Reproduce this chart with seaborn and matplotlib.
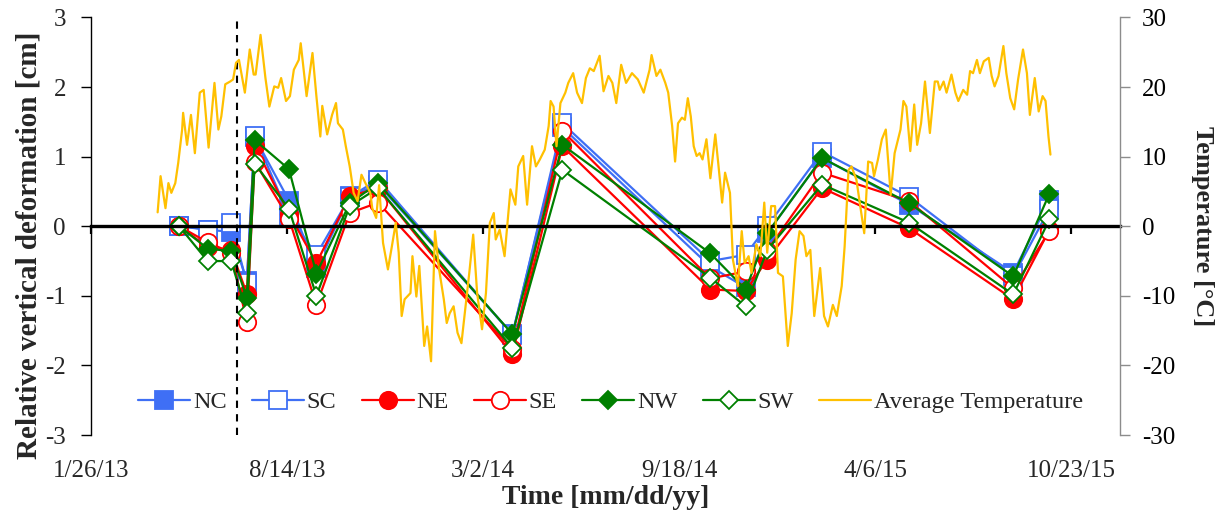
import pandas as pd
import matplotlib
matplotlib.use("Agg")
import matplotlib.pyplot as plt
import seaborn as sns

# survey dates and relative vertical deformation [cm] per settlement plate
survey_dates = ['2013-04-26', '2013-05-25', '2013-06-18', '2013-07-04', '2013-07-12',
                '2013-08-16', '2013-09-13', '2013-10-17', '2013-11-15', '2014-04-01',
                '2014-05-22', '2014-10-20', '2014-11-25', '2014-12-17', '2015-02-11',
                '2015-05-11', '2015-08-25', '2015-10-01']
NC = [0.0, -0.05, -0.08, -0.79, 1.28, 0.37, -0.60, 0.43, 0.60, -1.55, 1.42, -0.58, -0.88, -0.10, 0.98, 0.31, -0.67, 0.38]
SC = [0.01, -0.05, 0.05, -0.82, 1.30, 0.15, -0.41, 0.42, 0.67, -1.56, 1.48, -0.50, -0.41, 0.0, 1.07, 0.42, -0.72, 0.25]
NE = [0.0, -0.30, -0.34, -0.97, 1.16, 0.18, -0.53, 0.43, 0.55, -1.84, 1.15, -0.91, -0.93, -0.48, 0.55, -0.03, -1.05, -0.05]
SE = [0.0, -0.23, -0.38, -1.37, 0.93, 0.11, -1.13, 0.19, 0.34, -1.77, 1.37, -0.75, -0.65, -0.35, 0.77, 0.36, -0.89, -0.07]
NW = [0.0, -0.32, -0.36, -1.03, 1.24, 0.82, -0.68, 0.33, 0.62, -1.55, 1.17, -0.39, -0.91, -0.10, 0.98, 0.33, -0.72, 0.47]
SW = [0.0, -0.50, -0.50, -1.24, 0.90, 0.25, -1.00, 0.29, 0.55, -1.75, 0.81, -0.74, -1.15, -0.34, 0.60, 0.05, -0.98, 0.10]

# average air temperature, days after 1/26/13 and value [C]
temp_day = [68, 71, 76, 79, 82, 86, 89, 93, 94, 98, 102, 106, 111, 115, 120, 126, 130, 133, 137, 142,
            145, 148, 151, 157, 162, 166, 168, 173, 178, 182, 187, 191, 194, 199, 203, 207, 212, 214, 220, 226,
            230, 234, 236, 241, 246, 250, 252, 257, 260, 264, 268, 272, 276, 280, 285, 287, 291, 294, 298, 303,
            307, 311, 314, 317, 320, 326, 328, 332, 335, 340, 343, 347, 351, 355, 360, 363, 366, 370, 374, 378,
            383, 386, 390, 394, 399, 403, 407, 411, 413, 417, 422, 428, 433, 436, 441, 445, 450, 454, 458, 463,
            467, 469, 472, 475, 479, 484, 487, 492, 496, 501, 505, 509, 513, 519, 523, 528, 532, 536, 541, 546,
            552, 558, 564, 570, 572, 577, 581, 586, 589, 593, 596, 599, 603, 606, 609, 612, 615, 618, 621, 624,
            628, 632, 637, 640, 644, 647, 652, 655, 660, 664, 667, 671, 674, 679, 683, 687, 690, 694, 698, 701,
            706, 711, 715, 719, 723, 727, 730, 734, 738, 744, 748, 752, 757, 761, 766, 769, 773, 776, 781, 785,
            789, 793, 797, 799, 803, 807, 811, 816, 820, 826, 829, 832, 836, 840, 843, 847, 851, 856, 861, 864,
            866, 870, 873, 878, 882, 885, 890, 894, 897, 900, 904, 907, 911, 916, 919, 922, 926, 931, 934, 938,
            942, 946, 951, 955, 958, 963, 967, 971, 974, 977, 979]
temp_val = [2.0, 7.2, 2.6, 6.2, 4.8, 6.2, 9.1, 13.9, 16.3, 11.7, 16.0, 10.5, 19.2, 19.6, 11.3, 20.6, 13.9, 15.8, 20.4, 20.8,
            21.1, 23.5, 23.9, 19.2, 25.4, 21.8, 21.8, 27.5, 21.3, 17.2, 20.1, 19.9, 21.3, 18.0, 18.7, 22.5, 23.9, 26.3, 18.7, 24.9,
            18.7, 12.9, 17.3, 13.2, 16.0, 17.7, 14.8, 13.9, 11.5, 8.6, 4.8, 3.6, 7.4, 6.2, 4.8, 2.6, 1.2, 5.9, -2.4, -6.2,
            -2.9, 0.5, -3.8, -12.9, -10.5, -9.6, -4.3, -10.1, -5.7, -17.2, -14.4, -19.4, -0.7, -6.0, -10.5, -13.9, -12.5, -11.5, -15.3, -16.8,
            -10.5, -6.7, -1.2, -9.6, -14.8, -9.6, 0.5, 1.9, -1.9, -0.5, -4.3, 5.3, 3.1, 8.6, 10.1, 3.1, 11.5, 8.6, 9.6, 11.0,
            14.4, 18.0, 17.2, 11.5, 17.7, 19.2, 20.6, 22.0, 19.2, 17.7, 21.3, 22.7, 22.3, 24.5, 19.4, 21.6, 20.6, 17.7, 23.2, 20.6,
            22.0, 21.1, 19.2, 22.5, 24.6, 21.6, 22.5, 20.6, 19.2, 14.4, 9.3, 14.8, 15.6, 15.3, 18.4, 15.8, 11.5, 10.1, 10.5, 9.6,
            12.5, 6.9, 13.2, 9.1, 3.4, 7.7, 4.8, -4.8, -8.6, -0.7, -5.3, -4.3, -6.7, -2.6, -4.3, 3.4, -3.8, 2.9, 2.9, -6.7,
            -7.2, -17.2, -12.5, -4.8, -0.7, -1.4, -4.3, -3.4, -12.9, -6.0, -12.9, -14.4, -11.3, -12.9, -8.6, -2.9, 8.1, 8.6, 6.7, 2.9,
            -1.0, 9.3, 9.1, 7.2, 9.6, 12.5, 13.9, 4.5, 10.5, 13.9, 18.0, 17.2, 10.8, 17.5, 11.7, 14.8, 20.8, 13.4, 20.8, 20.8,
            19.6, 20.8, 19.2, 21.8, 19.2, 18.0, 19.6, 18.9, 22.3, 22.0, 23.9, 22.0, 23.7, 24.2, 21.6, 20.1, 21.6, 25.9, 22.0, 18.4,
            16.8, 21.1, 25.4, 22.0, 16.0, 21.3, 16.5, 18.7, 18.0, 12.9, 10.3]

tick_labels = ['1/26/13', '8/14/13', '3/2/14', '9/18/14', '4/6/15', '10/23/15']
start_date = '2013-01-26'
end_date = '2015-12-12'
construction_date = '2013-06-24'

dates = pd.to_datetime(survey_dates)
temp_dates = pd.Timestamp(start_date) + pd.to_timedelta(temp_day, unit='D')
tick_dates = pd.to_datetime(tick_labels, format='%m/%d/%y')

blue, red, green, gold = '#3F6FF5', '#FF0000', '#008000', '#FFC000'

sns.set_style('ticks')
plt.rcParams['font.family'] = ['Liberation Serif', 'DejaVu Serif']
plt.rcParams['font.size'] = 18
plt.rcParams['axes.unicode_minus'] = False

fig = plt.figure(figsize=(12.23, 5.19), dpi=100)
ax = fig.add_axes([0.0744, 0.1618, 0.8414, 0.8045])

series = [
    ('NC', NC, blue, 's', 12.5, blue),
    ('SC', SC, blue, 's', 12.5, 'white'),
    ('NE', NE, red, 'o', 12.5, red),
    ('SE', SE, red, 'o', 12.5, 'white'),
    ('NW', NW, green, 'D', 9, green),
    ('SW', SW, green, 'D', 9, 'white'),
]
for name, vals, c, m, ms, fc in series:
    sns.lineplot(x=dates, y=vals, ax=ax, color=c, marker=m, markersize=ms,
                 markerfacecolor=fc, markeredgecolor=c, markeredgewidth=1.3,
                 linewidth=1.6, label=name, legend=False)

ax.axvline(pd.Timestamp(construction_date), color='black', ls=(0, (3.5, 3)), lw=1.5)

ax.set_xlim(pd.Timestamp(start_date), pd.Timestamp(end_date))
ax.set_ylim(-3, 3)
ax.set_yticks(range(-3, 4))
ax.set_xticks(tick_dates)
ax.spines['top'].set_visible(False)
ax.spines['right'].set_visible(False)
ax.spines['left'].set_color('black')
ax.spines['left'].set_linewidth(1.0)
ax.spines['bottom'].set_position(('data', 0))
ax.spines['bottom'].set_linewidth(2.4)
ax.spines['bottom'].set_color('black')
ax.tick_params(axis='x', direction='out', length=6, width=1.6, color='black', labelbottom=False)
ax.tick_params(axis='y', direction='out', length=7, width=1.0, color='black', labelsize=18, pad=11)
ax.set_xlabel('')
ax.set_ylabel('Relative vertical deformation [cm]', fontsize=21, fontweight='bold')
ax.yaxis.set_label_coords(-0.047, 0.455)

# date labels sit below the plot area
secax = ax.secondary_xaxis('bottom')
secax.set_xticks(tick_dates, tick_labels)
secax.tick_params(length=0, labelsize=18, pad=18)
secax.spines['bottom'].set_visible(False)
secax.set_xlabel('Time [mm/dd/yy]', fontsize=20, fontweight='bold', labelpad=2)

ax2 = ax.twinx()
sns.lineplot(x=temp_dates, y=temp_val, ax=ax2, color=gold, linewidth=1.6,
             label='Average Temperature', legend=False)
ax2.set_ylim(-30, 30)
ax2.set_yticks(range(-30, 31, 10))
for s in ['top', 'left', 'bottom']:
    ax2.spines[s].set_visible(False)
ax2.spines['right'].set_color('#8C8C8C')
ax2.spines['right'].set_linewidth(1.0)
ax2.tick_params(axis='y', direction='out', length=7, width=1.0, color='#8C8C8C',
                labelcolor='black', labelsize=18, pad=9)
ax2.set_xlabel('')
ax2.set_ylabel('Temperature [°C]', fontsize=19, fontweight='bold', rotation=270, labelpad=28)

h1, l1 = ax.get_legend_handles_labels()
h2, l2 = ax2.get_legend_handles_labels()
ax2.legend(h1 + h2, l1 + l2, loc='center', bbox_to_anchor=(0.505, 0.078), ncol=7,
           frameon=False, fontsize=17.5, handlelength=2.14, handletextpad=0.12,
           columnspacing=1.03, borderaxespad=0)

fig.savefig('out.png', dpi=100)
